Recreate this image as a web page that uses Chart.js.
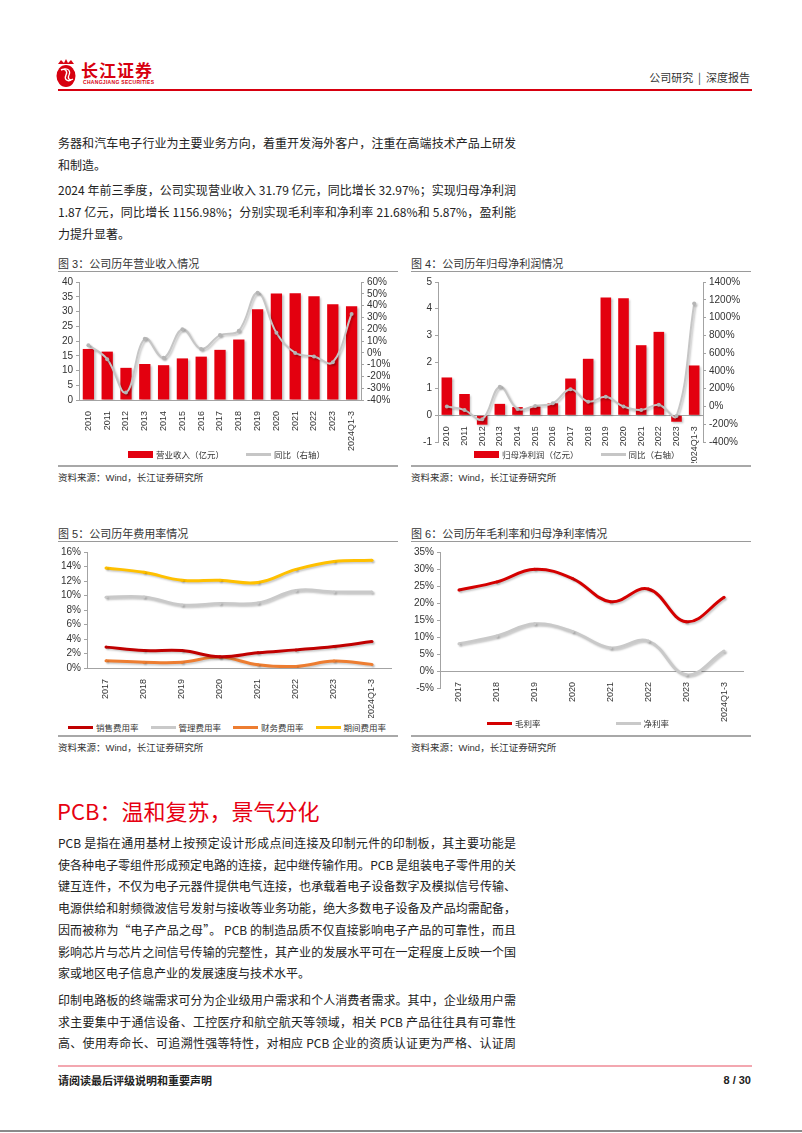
<!DOCTYPE html>
<html lang="zh-CN">
<head>
<meta charset="utf-8">
<title>公司研究 | 深度报告</title>
<script src="https://cdn.jsdelivr.net/npm/chart.js@4.4.1/dist/chart.umd.min.js"></script>
<style>
  html, body { margin: 0; padding: 0; background: #fff; }
  body { width: 802px; height: 1133px; position: relative; overflow: hidden;
         font-family: "Liberation Sans", Arial, "Noto Sans CJK SC", sans-serif; color: #222; }
  .abs { position: absolute; }
  .txt { position: absolute; left: 58px; width: 458px; font-size: 12px; line-height: 22px;
         font-family: "Noto Sans CJK SC", sans-serif; }
  .txt div { white-space: nowrap; text-align: justify; text-align-last: justify; }
  .txt div.end { text-align-last: left; }
  .figtitle { position: absolute; font-size: 11px; line-height: 14px; color: #333; }
  .rule { position: absolute; height: 1px; background: #9a9a9a; }
  .rule2 { position: absolute; height: 2px; background: #a8a8a8; }
  .source { position: absolute; font-size: 9.5px; line-height: 12px; color: #333; }
  canvas { position: absolute; }
  .legend { position: absolute; display: flex; align-items: center; font-size: 8.5px; color: #333; white-space: nowrap; }
  .legend .item { display: flex; align-items: center; }
  .legend .sw { position: relative; width: 25px; margin-right: 3px; }
</style>
</head>
<body>

<!-- header -->
<svg class="abs" style="left:55px;top:57px" width="22" height="32" viewBox="0 0 22 32">
  <path d="M3 7 L6 3 L9 6 L11 2 L13 6 L16 3 L19 7 Z" fill="#d7000f"/>
  <ellipse cx="11" cy="19" rx="9.5" ry="11" fill="#d7000f"/>
  <path d="M6 13 C10 11 13 14 11 18 C9 22 12 25 16 23" stroke="#fff" stroke-width="1.4" fill="none"/>
  <path d="M9 12 C13 11 16 14 14 18 C12 22 15 24 18 22" stroke="#fff" stroke-width="1.2" fill="none"/>
</svg>
<div class="abs" style="left:81px;top:60px;font-size:17px;line-height:20px;font-weight:bold;color:#d7000f;font-family:'Noto Sans CJK SC',sans-serif;letter-spacing:1px">长江证券</div>
<div class="abs" style="left:83px;top:79px;font-size:5px;line-height:6px;font-weight:bold;color:#d7000f;letter-spacing:0.3px">CHANGJIANG SECURITIES</div>
<div class="abs" style="right:52px;top:70px;font-size:11px;line-height:14px;color:#333;font-family:'Noto Sans CJK SC',sans-serif">公司研究 &nbsp;|&nbsp; 深度报告</div>
<div class="abs" style="left:58px;top:89px;width:694px;height:2px;background:#d7000f"></div>

<!-- text before charts -->
<div class="txt" style="top:132px">
  <div>务器和汽车电子行业为主要业务方向，着重开发海外客户，注重在高端技术产品上研发</div>
  <div class="end">和制造。</div>
</div>
<div class="txt" style="top:179px">
  <div>2024 年前三季度，公司实现营业收入 31.79 亿元，同比增长 32.97%；实现归母净利润</div>
  <div>1.87 亿元，同比增长 1156.98%；分别实现毛利率和净利率 21.68%和 5.87%，盈利能</div>
  <div class="end">力提升显著。</div>
</div>

<!-- figure frames -->
<div class="figtitle" style="left:58px;top:257px">图 3：公司历年营业收入情况</div>
<div class="figtitle" style="left:411px;top:257px">图 4：公司历年归母净利润情况</div>
<div class="rule" style="left:58px;top:271px;width:340px"></div>
<div class="rule" style="left:411px;top:271px;width:340px"></div>
<div class="rule2" style="left:58px;top:465px;width:340px"></div>
<div class="rule2" style="left:411px;top:465px;width:340px"></div>
<div class="source" style="left:58px;top:472px">资料来源：Wind，长江证券研究所</div>
<div class="source" style="left:411px;top:472px">资料来源：Wind，长江证券研究所</div>

<div class="figtitle" style="left:58px;top:527px">图 5：公司历年费用率情况</div>
<div class="figtitle" style="left:411px;top:527px">图 6：公司历年毛利率和归母净利率情况</div>
<div class="rule" style="left:58px;top:541px;width:340px"></div>
<div class="rule" style="left:411px;top:541px;width:340px"></div>
<div class="rule2" style="left:58px;top:735px;width:340px"></div>
<div class="rule2" style="left:411px;top:735px;width:340px"></div>
<div class="source" style="left:58px;top:742px">资料来源：Wind，长江证券研究所</div>
<div class="source" style="left:411px;top:742px">资料来源：Wind，长江证券研究所</div>

<canvas id="c3" width="340" height="180" style="left:58px;top:273px"></canvas>
<canvas id="c4" width="340" height="190" style="left:411px;top:273px"></canvas>
<canvas id="c5" width="340" height="175" style="left:58px;top:543px"></canvas>
<canvas id="c6" width="340" height="180" style="left:411px;top:543px"></canvas>
<div class="legend" id="l3" style="left:128px;top:448px"></div>
<div class="legend" id="l4" style="left:474px;top:448px"></div>
<div class="legend" id="l5" style="left:68px;top:721px"></div>
<div class="legend" id="l6" style="left:487px;top:717px"></div>

<!-- section -->
<div class="abs" style="left:57px;top:796px;font-size:22px;line-height:28px;color:#e60012;font-family:'Noto Sans CJK SC',sans-serif">PCB：温和复苏，景气分化</div>
<div class="txt" style="top:832px;line-height:21.7px">
  <div>PCB 是指在通用基材上按预定设计形成点间连接及印制元件的印制板，其主要功能是</div>
  <div>使各种电子零组件形成预定电路的连接，起中继传输作用。PCB 是组装电子零件用的关</div>
  <div>键互连件，不仅为电子元器件提供电气连接，也承载着电子设备数字及模拟信号传输、</div>
  <div>电源供给和射频微波信号发射与接收等业务功能，绝大多数电子设备及产品均需配备，</div>
  <div>因而被称为“电子产品之母”。 PCB 的制造品质不仅直接影响电子产品的可靠性，而且</div>
  <div>影响芯片与芯片之间信号传输的完整性，其产业的发展水平可在一定程度上反映一个国</div>
  <div class="end">家或地区电子信息产业的发展速度与技术水平。</div>
</div>
<div class="txt" style="top:989px;line-height:21.7px">
  <div>印制电路板的终端需求可分为企业级用户需求和个人消费者需求。其中，企业级用户需</div>
  <div>求主要集中于通信设备、工控医疗和航空航天等领域，相关 PCB 产品往往具有可靠性</div>
  <div>高、使用寿命长、可追溯性强等特性，对相应 PCB 企业的资质认证更为严格、认证周</div>
</div>

<!-- footer -->
<div class="abs" style="left:58px;top:1065px;width:694px;height:2px;background:#f3a7b0"></div>
<div class="abs" style="left:58px;top:1073px;font-size:11px;line-height:14px;font-weight:bold;color:#222;font-family:'Noto Sans CJK SC',sans-serif">请阅读最后评级说明和重要声明</div>
<div class="abs" style="right:51px;top:1073px;font-size:11px;line-height:14px;font-weight:bold;color:#222">8 / 30</div>
<div class="abs" style="left:0;top:1130px;width:802px;height:2px;background:#8a8a8a"></div>

<script>
// Categories
const years = ['2010', '2011', '2012', '2013', '2014', '2015', '2016', '2017',
  '2018', '2019', '2020', '2021', '2022', '2023', '2024Q1-3'];
const periods = ['2017', '2018', '2019', '2020', '2021', '2022', '2023', '2024Q1-3'];

// Fig 3 - revenue (100m yuan) and yoy (%)
const revenue = [17.3, 16.4, 10.9, 12.2, 11.8, 14.1, 14.7, 17.0, 20.5, 30.8, 36.1, 36.2, 35.2, 32.5, 31.79];
const revenueYoy = [6.5, -5.4, -33.6, 12.0, -4.3, 20.0, 3.2, 15.0, 18.7, 50.8, 17.0, -0.1, -3.2, -8.0, 32.97];

// Fig 4 - net profit attributable (100m yuan) and yoy (%)
const profit = [1.42, 0.80, -0.35, 0.43, 0.31, 0.33, 0.45, 1.38, 2.12, 4.42, 4.39, 2.63, 3.13, -0.24, 1.87];
const profitYoy = [-1, -41, -144, 222, -28, 6, 36, 193, 54, 108, -1, -40, 19, -108, 1156.98];

// Fig 5 - expense ratios (%)
const salesRate = [2.88, 2.4, 2.4, 1.55, 2.1, 2.5, 2.97, 3.65];
const adminRate = [9.77, 9.8, 8.7, 8.9, 8.96, 10.7, 10.5, 10.5];
const financeRate = [1.0, 0.8, 0.8, 1.5, 0.45, 0.22, 0.95, 0.5];
const periodRate = [13.8, 13.2, 12.1, 12.1, 11.8, 13.6, 14.7, 14.85];

// Fig 6 - margins (%)
const grossMargin = [23.8, 26.2, 29.9, 27.2, 20.4, 24.1, 14.5, 21.68];
const netMargin = [8.0, 10.3, 13.9, 11.6, 6.8, 8.8, -1.1, 5.87];

// Colours
const red = '#e3000f';
const grey = '#c6c6c6';
const axisColor = '#a3a3a3';

Chart.defaults.font.family = '"Liberation Sans", Arial, "Noto Sans CJK SC", sans-serif';
Chart.defaults.font.size = 10;
Chart.defaults.color = '#333';
Chart.defaults.animation = false;
Chart.defaults.responsive = false;
Chart.defaults.plugins.legend.display = false;
Chart.defaults.plugins.tooltip.enabled = false;

// soft drop shadow like the excel originals
const shadow = {
	id: 'shadow',
	beforeDatasetDraw(chart) {
		const ctx = chart.ctx;
		ctx.save();
		ctx.shadowColor = 'rgba(0,0,0,0.22)';
		ctx.shadowBlur = 2;
		ctx.shadowOffsetX = 1.5;
		ctx.shadowOffsetY = 1.5;
	},
	afterDatasetDraw(chart) {
		chart.ctx.restore();
	}
};

const pct = v => v + '%';

function yAxis(width, min, max, step, opts) {
	return Object.assign({
		min: min,
		max: max,
		border: { color: axisColor },
		grid: { drawOnChartArea: false, color: axisColor, tickLength: 3 },
		ticks: { stepSize: step, padding: 3, autoSkip: false },
		afterFit: s => { s.width = width; }
	}, opts || {});
}

function xAxis(height, opts) {
	return Object.assign({
		offset: true,
		border: { color: axisColor },
		grid: { display: false },
		ticks: { minRotation: 90, maxRotation: 90, autoSkip: false, padding: 3, font: { size: 9 } },
		afterFit: s => { s.height = height; }
	}, opts || {});
}

function legend(id, datasets, gap) {
	const box = document.getElementById(id);
	datasets.forEach((ds, i) => {
		const item = document.createElement('span');
		item.className = 'item';
		if (i > 0) item.style.marginLeft = gap + 'px';
		const sw = document.createElement('span');
		sw.className = 'sw';
		if (ds.type === 'line' || ds.isLine) {
			sw.style.height = '3px';
			sw.style.background = ds.borderColor;
		} else {
			sw.style.height = '7px';
			sw.style.background = ds.backgroundColor;
		}
		item.appendChild(sw);
		item.appendChild(document.createTextNode(ds.label));
		box.appendChild(item);
	});
}

// Fig 3
const c3Sets = [
	{ label: '营业收入（亿元）', data: revenue, yAxisID: 'y', backgroundColor: red,
		categoryPercentage: 1, barPercentage: 0.6, order: 1 },
	{ type: 'line', label: '同比（右轴）', data: revenueYoy, yAxisID: 'y1', borderColor: grey,
		backgroundColor: grey, borderWidth: 2, tension: 0.4, pointRadius: 2,
		pointBackgroundColor: '#b5b5b5', pointBorderWidth: 0, order: 0 }
];
new Chart(document.getElementById('c3'), {
	type: 'bar',
	data: { labels: years, datasets: c3Sets },
	options: {
		layout: { padding: { top: 7 } },
		scales: {
			x: xAxis(53),
			y: yAxis(21, 0, 40, 5),
			y1: yAxis(37, -40, 60, 10, { position: 'right',
				ticks: { stepSize: 10, padding: 3, autoSkip: false, callback: pct } })
		}
	},
	plugins: [shadow]
});
legend('l3', c3Sets, 22);

// Fig 4 - category axis sits on the zero line
const c4Sets = [
	{ label: '归母净利润（亿元）', data: profit, yAxisID: 'y', backgroundColor: red,
		categoryPercentage: 1, barPercentage: 0.6, order: 1 },
	{ type: 'line', label: '同比（右轴）', data: profitYoy, yAxisID: 'y1', borderColor: grey,
		backgroundColor: grey, borderWidth: 2, tension: 0.4, pointRadius: 2,
		pointBackgroundColor: '#b5b5b5', pointBorderWidth: 0, order: 0 }
];
new Chart(document.getElementById('c4'), {
	type: 'bar',
	data: { labels: years, datasets: c4Sets },
	options: {
		layout: { padding: { top: 7, bottom: 21 } },
		scales: {
			x: xAxis(0, { position: { y: 0 } }),
			y: yAxis(27, -1, 5, 1),
			y1: yAxis(48, -400, 1400, 200, { position: 'right',
				ticks: { stepSize: 200, padding: 3, autoSkip: false, callback: pct } })
		}
	},
	plugins: [shadow]
});
legend('l4', c4Sets, 22);

// Fig 5
const lineStyle = { borderWidth: 3, tension: 0.4, pointRadius: 1.5, pointBorderWidth: 0, isLine: true };
const c5Sets = [
	Object.assign({ label: '销售费用率', data: salesRate, borderColor: '#c00000', backgroundColor: '#c00000' }, lineStyle),
	Object.assign({ label: '管理费用率', data: adminRate, borderColor: '#c9c9c9', backgroundColor: '#c9c9c9' }, lineStyle),
	Object.assign({ label: '财务费用率', data: financeRate, borderColor: '#ed7d31', backgroundColor: '#ed7d31' }, lineStyle),
	Object.assign({ label: '期间费用率', data: periodRate, borderColor: '#ffc000', backgroundColor: '#ffc000' }, lineStyle)
];
new Chart(document.getElementById('c5'), {
	type: 'line',
	data: { labels: periods, datasets: c5Sets },
	options: {
		layout: { padding: { top: 7, right: 7 } },
		scales: {
			x: xAxis(50),
			y: yAxis(29, 0, 16, 2, { ticks: { stepSize: 2, padding: 3, autoSkip: false, callback: pct } })
		}
	},
	plugins: [shadow]
});
legend('l5', c5Sets, 12);

// Fig 6 - category axis sits on the zero line
const c6Sets = [
	Object.assign({ label: '毛利率', data: grossMargin, borderColor: '#d40000', backgroundColor: '#d40000' }, lineStyle),
	Object.assign({ label: '净利率', data: netMargin, borderColor: '#c9c9c9', backgroundColor: '#c9c9c9' }, lineStyle)
];
new Chart(document.getElementById('c6'), {
	type: 'line',
	data: { labels: periods, datasets: c6Sets },
	options: {
		layout: { padding: { top: 9, right: 8, bottom: 35 } },
		scales: {
			x: xAxis(0, { position: { y: 0 } }),
			y: yAxis(29, -5, 35, 5, { ticks: { stepSize: 5, padding: 3, autoSkip: false, callback: pct } })
		}
	},
	plugins: [shadow]
});
legend('l6', c6Sets, 75);
</script>
</body>
</html>
